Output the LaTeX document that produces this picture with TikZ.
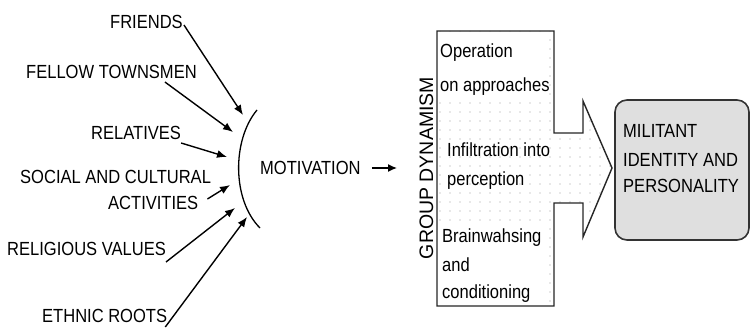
\documentclass[tikz,border=0pt]{standalone}
\usepackage{fontspec}
\setmainfont{Liberation Sans}[FakeStretch=0.87]
\newfontfamily\plainsans{Liberation Sans}
\usetikzlibrary{arrows.meta,patterns.meta,calc}

% light, widely spaced dot texture for the group-dynamism block
\tikzdeclarepattern{
  name=sparsedots,
  type=uncolored,
  bottom left={(-1pt,-1pt)},
  top right={(9pt,8pt)},
  tile size={(10pt,9pt)},
  code={\fill (0pt,0pt) circle (0.6pt);}
}

\begin{document}
\begin{tikzpicture}[x=1pt,y=-1pt,
  lbl/.style={font=\fontsize{19}{22}\selectfont, inner sep=0pt, anchor=base west},
  feed/.style={line width=1.4pt, -{Latex[length=10pt,width=8pt]}},
  blockline/.style={draw=black!85, line width=1.4pt, line join=miter},
]
\useasboundingbox (0,0) rectangle (751,328);

% ---- influences on the left ----
\node[lbl] (friends)   at (110,29)  {FRIENDS};
\node[lbl] (fellow)    at (26,79)   {FELLOW TOWNSMEN};
\node[lbl] (relatives) at (91,140)  {RELATIVES};
\node[lbl] (social)    at (20,184)  {SOCIAL AND CULTURAL};
\node[lbl] (activ)     at (108,210) {ACTIVITIES};
\node[lbl] (religious) at (7,256)   {RELIGIOUS VALUES};
\node[lbl] (ethnic)    at (42,322)  {ETHNIC ROOTS};

% bracket gathering the influences
\draw[line width=1.3pt] (257,110) .. controls (232,140) and (232,200) .. (260,228);

% arrow tips just in front of the bracket
\coordinate (t1) at (243,115);
\coordinate (t2) at (233,132);
\coordinate (t3) at (227,157);
\coordinate (t4) at (230,185);
\coordinate (t5) at (235,208);
\coordinate (t6) at (247,217);

\draw[feed] ($(friends.base east)+(1,-4)$)    -- (t1);
\draw[feed] ($(fellow.base east)+(-32,3)$)    -- (t2);
\draw[feed] ($(relatives.base east)+(0,3)$)   -- (t3);
\draw[feed] ($(activ.base east)+(9,-11)$)     -- (t4);
\draw[feed] ($(religious.base east)+(0,6)$)   -- (t5);
\draw[feed] ($(ethnic.base east)+(-2,5)$)     -- (t6);

% ---- motivation ----
\node[lbl] (motiv) at (260,175) {MOTIVATION};
\coordinate (mtip) at (397,168);
\draw[line width=1.4pt, -{Latex[length=9pt,width=8pt]}] ($(motiv.base east)+(11,-7)$) -- (mtip);

\node[font=\plainsans\fontsize{19.5}{22}\selectfont, inner sep=0pt, anchor=base, rotate=90]
  (gd) at (433,168) {GROUP DYNAMISM};

% ---- group-dynamism block with its arrow ----
\def\blockpath{(437,31) -- (554,31) -- (554,133) -- (583,133) -- (583,101)
  -- (612,168) -- (583,237) -- (583,203) -- (554,203) -- (554,306)
  -- (437,306) -- cycle}
\fill[white] \blockpath;
\fill[pattern=sparsedots, pattern color=gray!75] \blockpath;
\fill[white] (438,32) rectangle (546,99);
\fill[white] (438,226) rectangle (546,305);
\draw[blockline] \blockpath;

\node[lbl] (op1) at (440,58)  {Operation};
\node[lbl] (op2) at (440,92)  {on approaches};
\node[lbl] (in1) at (447,157) {Infiltration into};
\node[lbl] (in2) at (447,186) {perception};
\node[lbl] (br1) at (442,243) {Brainwahsing};
\node[lbl] (br2) at (442,272) {and};
\node[lbl] (br3) at (442,298) {conditioning};

% ---- outcome ----
\node[draw=black!80, line width=1.6pt, rounded corners=12pt, fill=gray!25,
      minimum width=134pt, minimum height=140pt, inner sep=0pt] (milbox) at (682,170) {};
\node[lbl] (mil1) at (623,138) {MILITANT};
\node[lbl] (mil2) at (623,167) {IDENTITY AND};
\node[lbl] (mil3) at (623,193) {PERSONALITY};
\end{tikzpicture}
\end{document}
